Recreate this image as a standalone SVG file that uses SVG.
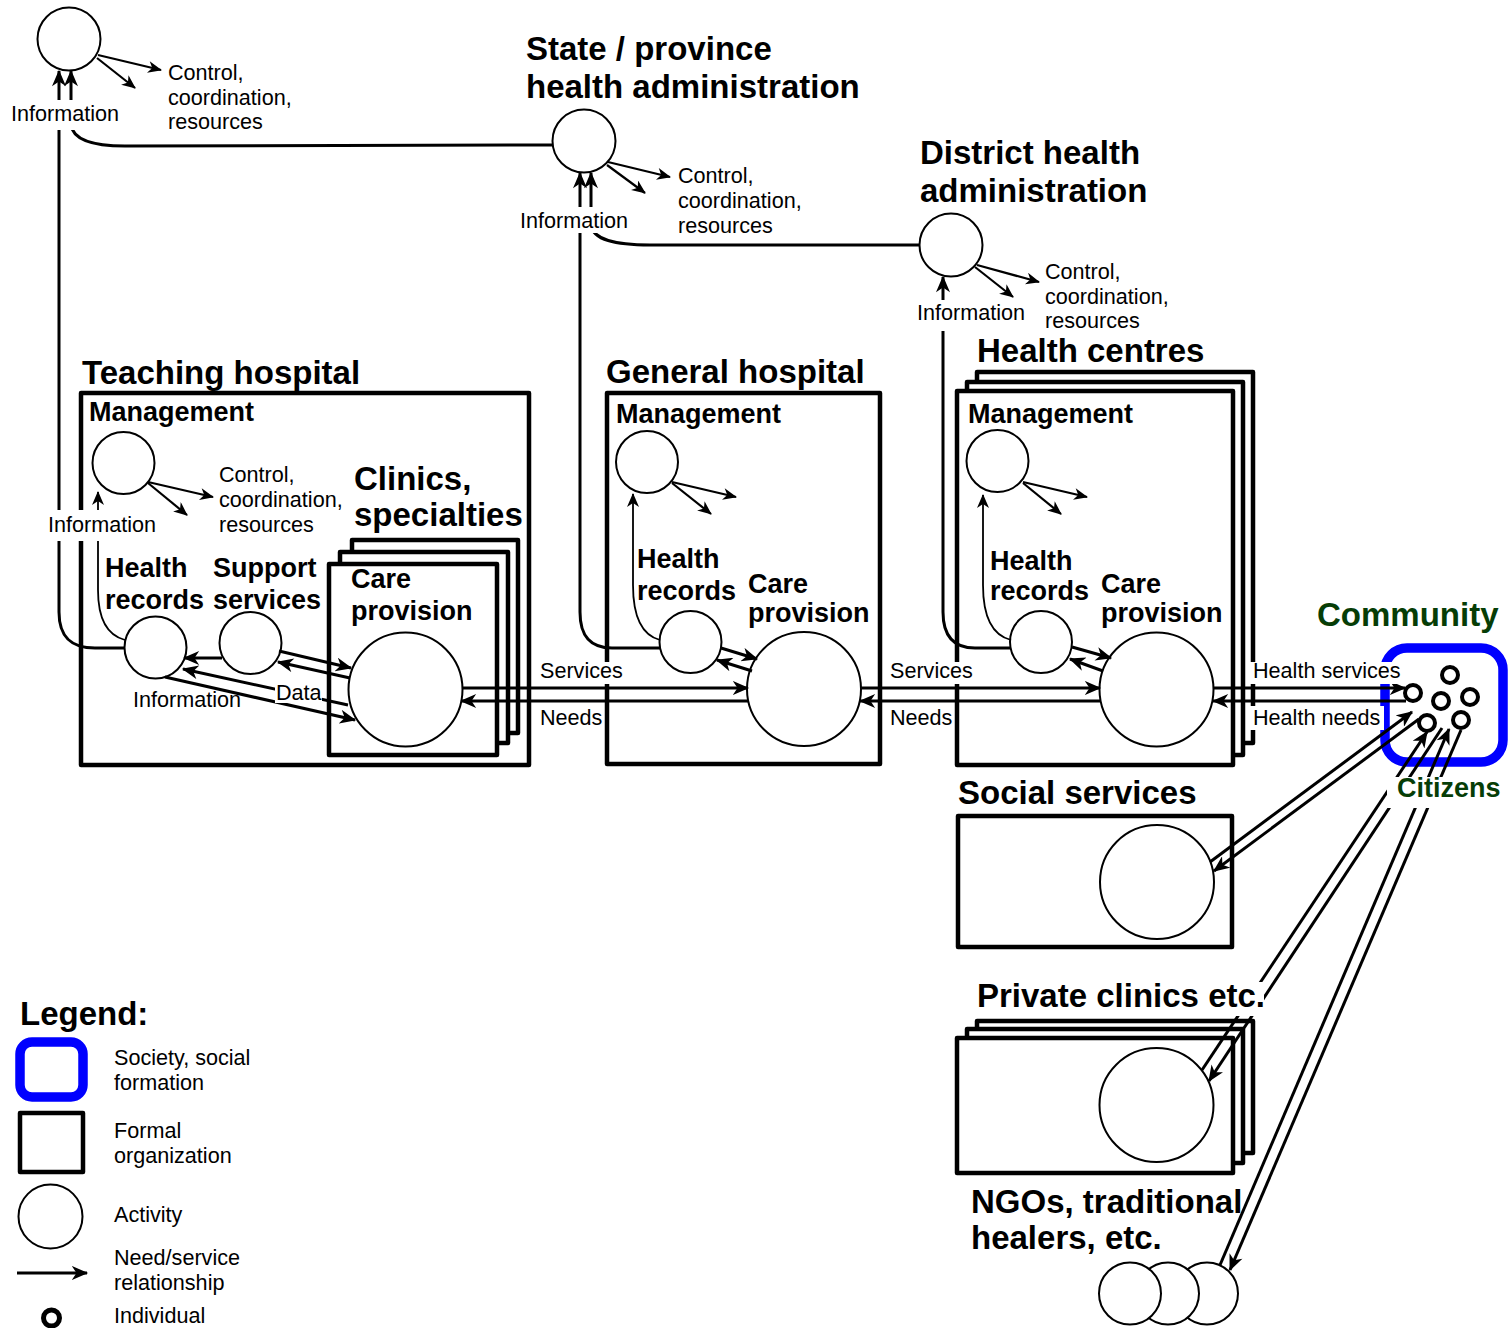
<svg xmlns="http://www.w3.org/2000/svg" width="1511" height="1328" viewBox="0 0 1511 1328">
  <defs>
    <style>
      text { font-family: "Liberation Sans", Arial, sans-serif; fill: #000; }
      .s { font-size: 21.6px; }
      .b { font-size: 27px; font-weight: bold; }
      .h { font-size: 33px; font-weight: bold; }
      .green { fill: #063d06; }
      .act { fill: #fff; stroke: #000; stroke-width: 2; }
      .org { fill: #fff; stroke: #000; stroke-width: 4.5; stroke-linejoin: round; }
      .soc { fill: none; stroke: #0000ff; stroke-width: 9.5; }
      .ind { fill: none; stroke: #000; stroke-width: 4; }
      .rel { fill: none; stroke: #000; stroke-width: 3; marker-end: url(#ah); }
      .ctl { fill: none; stroke: #000; stroke-width: 2.2; marker-end: url(#ahs); }
      .info { fill: none; stroke: #000; stroke-width: 3; marker-end: url(#ah); }
      .thin { fill: none; stroke: #000; stroke-width: 1.8; marker-end: url(#ahs); }
      .bg { fill: #fff; }
    </style>
    <marker id="ah" viewBox="0 0 14 12" refX="13" refY="6" markerWidth="17" markerHeight="14" markerUnits="userSpaceOnUse" orient="auto">
      <path d="M0,0 L14,6 L0,12 L4,6 z" fill="#000"/>
    </marker>
    <marker id="ahs" viewBox="0 0 14 12" refX="13" refY="6" markerWidth="15" markerHeight="12" markerUnits="userSpaceOnUse" orient="auto">
      <path d="M0,0 L14,6 L0,12 L4,6 z" fill="#000"/>
    </marker>
  </defs>
  <rect width="1511" height="1328" fill="#fff"/>

  <!-- national ministry (top left) -->
  <g id="ministry">
    <circle class="act" cx="69" cy="39" r="31.5"/>
    <text class="s" x="168" y="80">Control,</text>
    <text class="s" x="168" y="104.5">coordination,</text>
    <text class="s" x="168" y="129">resources</text>
  </g>

  <!-- state / province administration -->
  <g id="state-admin">
    <text class="h" x="526" y="60">State / province</text>
    <text class="h" x="526" y="98">health administration</text>
    <circle class="act" cx="584" cy="141" r="31.5"/>
    <text class="s" x="678" y="183">Control,</text>
    <text class="s" x="678" y="208">coordination,</text>
    <text class="s" x="678" y="233">resources</text>
  </g>

  <!-- district administration -->
  <g id="district-admin">
    <text class="h" x="920" y="164">District health</text>
    <text class="h" x="920" y="202">administration</text>
    <circle class="act" cx="951" cy="245" r="31.5"/>
    <text class="s" x="1045" y="279">Control,</text>
    <text class="s" x="1045" y="303.5">coordination,</text>
    <text class="s" x="1045" y="328">resources</text>
  </g>

  <!-- teaching hospital -->
  <g id="teaching-hospital">
    <text class="h" x="82" y="384">Teaching hospital</text>
    <rect class="org" x="81" y="393" width="448" height="372"/>
    <text class="b" x="89" y="421">Management</text>
  </g>
  <g id="teaching-management">
    <circle class="act" cx="123.5" cy="463" r="31"/>
    <text class="s" x="219" y="482">Control,</text>
    <text class="s" x="219" y="507">coordination,</text>
    <text class="s" x="219" y="532">resources</text>
  </g>
  <g id="teaching-clinics">
    <text class="h" x="354" y="490">Clinics,</text>
    <text class="h" x="354" y="526">specialties</text>
    <rect class="org" x="352" y="540" width="166" height="193"/>
    <rect class="org" x="340" y="552" width="168" height="191"/>
    <rect class="org" x="329" y="564" width="168" height="191"/>
    <text class="b" x="351" y="588">Care</text>
    <text class="b" x="351" y="620">provision</text>
    <circle class="act" cx="405.5" cy="689.5" r="57"/>
  </g>
  <g id="teaching-records">
    <text class="b" x="105" y="577">Health</text>
    <text class="b" x="105" y="609">records</text>
    <circle class="act" cx="155.5" cy="647.5" r="31"/>
  </g>
  <g id="teaching-support">
    <text class="b" x="213" y="577">Support</text>
    <text class="b" x="213" y="609">services</text>
    <circle class="act" cx="250.5" cy="643" r="31"/>
  </g>

  <!-- general hospital -->
  <g id="general-hospital">
    <text class="h" x="606" y="383">General hospital</text>
    <rect class="org" x="607" y="393" width="273" height="371"/>
    <text class="b" x="616" y="423">Management</text>
  </g>
  <g id="general-management">
    <circle class="act" cx="647" cy="462" r="31"/>
  </g>
  <g id="general-records">
    <text class="b" x="637" y="568">Health</text>
    <text class="b" x="637" y="600">records</text>
    <circle class="act" cx="690.5" cy="642" r="31"/>
  </g>
  <g id="general-care">
    <text class="b" x="748" y="593">Care</text>
    <text class="b" x="748" y="622">provision</text>
    <circle class="act" cx="804" cy="689" r="57"/>
  </g>

  <!-- health centres -->
  <g id="health-centres">
    <text class="h" x="977" y="362">Health centres</text>
    <rect class="org" x="977" y="372" width="276" height="371"/>
    <rect class="org" x="967" y="382" width="276" height="373"/>
    <rect class="org" x="957" y="391" width="276" height="374"/>
    <text class="b" x="968" y="423">Management</text>
  </g>
  <g id="centre-management">
    <circle class="act" cx="997.5" cy="461" r="31"/>
  </g>
  <g id="centre-records">
    <text class="b" x="990" y="570">Health</text>
    <text class="b" x="990" y="600">records</text>
    <circle class="act" cx="1041" cy="642" r="31"/>
  </g>
  <g id="centre-care">
    <text class="b" x="1101" y="593">Care</text>
    <text class="b" x="1101" y="622">provision</text>
    <circle class="act" cx="1156.5" cy="689.5" r="57"/>
  </g>

  <!-- social services -->
  <g id="social-services">
    <text class="h" x="958" y="804">Social services</text>
    <rect class="org" x="958" y="816" width="274" height="131"/>
    <circle class="act" cx="1157" cy="882" r="57"/>
  </g>

  <!-- private clinics -->
  <g id="private-clinics">
    <rect class="org" x="977" y="1021" width="276" height="132"/>
    <rect class="org" x="967" y="1029" width="276" height="134"/>
    <rect class="org" x="957" y="1038" width="276" height="135"/>
    <circle class="act" cx="1156.5" cy="1105" r="57"/>
  </g>

  <!-- NGOs, traditional healers -->
  <g id="ngos">
    <text class="h" x="971" y="1213">NGOs, traditional</text>
    <text class="h" x="971" y="1249">healers, etc.</text>
    <circle class="act" cx="1207" cy="1293.5" r="31"/>
    <circle class="act" cx="1168" cy="1293.5" r="31"/>
    <circle class="act" cx="1130" cy="1293.5" r="31"/>
  </g>

  <!-- community of citizens -->
  <g id="community">
    <text class="h green" x="1317" y="626">Community</text>
    <rect class="soc" x="1385" y="648" width="118" height="114" rx="22"/>
    <circle class="ind" cx="1450" cy="675" r="8"/>
    <circle class="ind" cx="1413" cy="693" r="8"/>
    <circle class="ind" cx="1441" cy="701" r="8"/>
    <circle class="ind" cx="1470" cy="697" r="8"/>
    <circle class="ind" cx="1427" cy="723" r="8"/>
    <circle class="ind" cx="1461" cy="720" r="8"/>
  </g>

  <!-- connectors -->
  <g id="connectors">
    <!-- control, coordination, resources -->
    <path class="ctl" d="M98,55 L161,70"/>
    <path class="ctl" d="M97,58 L135,88"/>
    <path class="ctl" d="M608,162 L670,177"/>
    <path class="ctl" d="M607,165 L645,193"/>
    <path class="ctl" d="M977,265 L1039,282"/>
    <path class="ctl" d="M975,267 L1013,297"/>
    <path class="ctl" d="M148,482 L213,497"/>
    <path class="ctl" d="M148,483 L187,515"/>
    <path class="ctl" d="M672,482 L736,497"/>
    <path class="ctl" d="M672,483 L711,514"/>
    <path class="ctl" d="M1023,482 L1087,497"/>
    <path class="ctl" d="M1023,483 L1061,514"/>

    <!-- information flows up the hierarchy -->
    <path class="info" d="M124,648 L95,648 C72,648 59,638 59,612 L59,71"/>
    <path class="info" d="M553,145 L125,146 C95,146 73,140 71,125 L71,71"/>
    <path class="info" d="M660,648 L612,648 C591,648 580,637 580,612 L580,173"/>
    <path class="info" d="M920,245 L650,245 C615,245 593,240 591,225 L591,173"/>
    <path class="info" d="M1010,648 L975,648 C955,648 943,638 943,612 L943,277"/>

    <!-- information to local management -->
    <path class="thin" d="M125,640 C106,635 98,618 98,590 L98,492"/>
    <path class="thin" d="M660,640 C641,635 633,615 633,585 L633,494"/>
    <path class="thin" d="M1011,640 C991,635 983,615 983,585 L983,495"/>

    <!-- teaching hospital internal flows -->
    <path class="rel" d="M222,658 L184,658"/>
    <path class="rel" d="M279,651 L351,668"/>
    <path class="rel" d="M350,678 L278,662"/>
    <path class="rel" d="M165,677 L355,720"/>
    <path class="rel" d="M348,705 L183,669"/>

    <!-- general hospital internal flows -->
    <path class="rel" d="M721,648 L757,659"/>
    <path class="rel" d="M752,671 L717,660"/>

    <!-- health centre internal flows -->
    <path class="rel" d="M1072,647 L1111,658"/>
    <path class="rel" d="M1103,671 L1070,659"/>

    <!-- services and needs between levels -->
    <path class="rel" d="M462,688 L748,688"/>
    <path class="rel" d="M748,701 L461,701"/>
    <path class="rel" d="M861,688 L1100,688"/>
    <path class="rel" d="M1101,701 L860,701"/>
    <path class="rel" d="M1213,688 L1405,688"/>
    <path class="rel" d="M1406,701 L1213,701"/>

    <!-- citizens and other providers -->
    <path class="rel" d="M1210,862 L1412,712"/>
    <path class="rel" d="M1419,719 L1214,871"/>
    <path class="rel" d="M1202,1070 L1427,732"/>
    <path class="rel" d="M1442,728 L1209,1081"/>
    <path class="rel" d="M1220,1265 L1449,729"/>
    <path class="rel" d="M1461,730 L1230,1270"/>
  </g>

  <!-- labels laid over the connectors -->
  <g id="labels">
    <rect class="bg" x="8" y="100" width="114" height="30"/>
    <text class="s" x="11" y="121">Information</text>
    <rect class="bg" x="517" y="207" width="115" height="26"/>
    <text class="s" x="520" y="228">Information</text>
    <rect class="bg" x="914" y="300" width="114" height="31"/>
    <text class="s" x="917" y="320">Information</text>
    <rect class="bg" x="45" y="510" width="113" height="31"/>
    <text class="s" x="48" y="532">Information</text>
    <text class="s" x="133" y="707">Information</text>
    <rect class="bg" x="275" y="684" width="47" height="19"/>
    <text class="s" x="276" y="700">Data</text>

    <rect class="bg" x="538" y="662" width="87" height="22"/>
    <text class="s" x="540" y="678">Services</text>
    <rect class="bg" x="538" y="706" width="66" height="24"/>
    <text class="s" x="540" y="725">Needs</text>
    <rect class="bg" x="888" y="662" width="87" height="22"/>
    <text class="s" x="890" y="678">Services</text>
    <rect class="bg" x="888" y="706" width="66" height="24"/>
    <text class="s" x="890" y="725">Needs</text>
    <rect class="bg" x="1250" y="662" width="155" height="22"/>
    <text class="s" x="1253" y="678">Health services</text>
    <rect class="bg" x="1250" y="706" width="134" height="24"/>
    <text class="s" x="1253" y="725">Health needs</text>

    <rect class="bg" x="1387" y="777" width="118" height="31"/>
    <text class="b green" x="1397" y="797">Citizens</text>
    <rect class="bg" x="975" y="982" width="289" height="34"/>
    <text class="h" x="977" y="1007">Private clinics etc.</text>
  </g>

  <!-- legend -->
  <g id="legend">
    <text class="h" x="20" y="1025">Legend:</text>
    <rect class="soc" x="20" y="1042" width="63" height="55" rx="12"/>
    <text class="s" x="114" y="1065">Society, social</text>
    <text class="s" x="114" y="1090">formation</text>
    <rect class="org" x="20" y="1113" width="63" height="59"/>
    <text class="s" x="114" y="1138">Formal</text>
    <text class="s" x="114" y="1163">organization</text>
    <circle class="act" cx="50.5" cy="1216.5" r="32"/>
    <text class="s" x="114" y="1222">Activity</text>
    <path class="rel" d="M17,1273 L87,1273"/>
    <text class="s" x="114" y="1265">Need/service</text>
    <text class="s" x="114" y="1290">relationship</text>
    <circle cx="51.5" cy="1318" r="8" fill="none" stroke="#000" stroke-width="5"/>
    <text class="s" x="114" y="1323">Individual</text>
  </g>
</svg>
